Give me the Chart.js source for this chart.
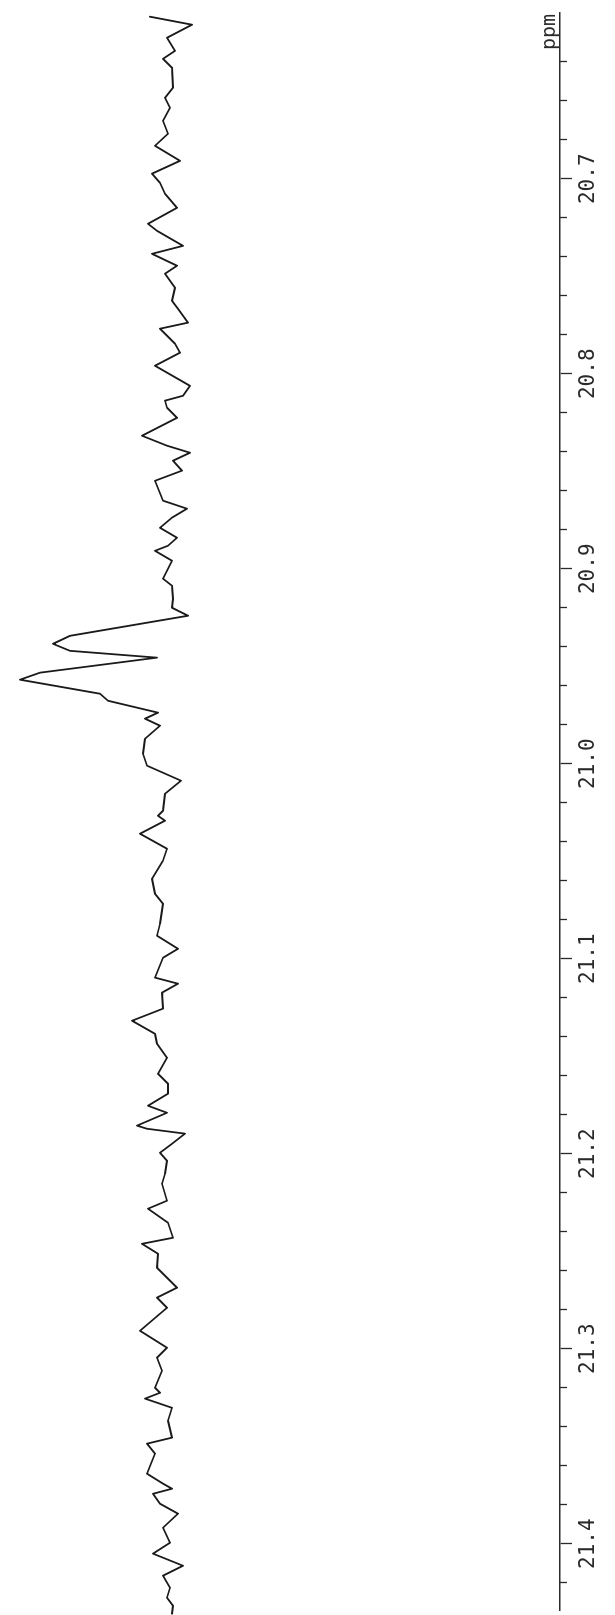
<!DOCTYPE html>
<html>
<head>
<meta charset="utf-8">
<script src="https://cdn.jsdelivr.net/npm/chart.js@4/dist/chart.umd.min.js"></script>
<style>
  html, body { margin: 0; padding: 0; background: #ffffff; width: 615px; height: 1615px; overflow: hidden; }
  #wrap { position: absolute; left: 0; top: 0; width: 1615px; height: 615px;
          transform-origin: 0 0; transform: translateY(1615px) rotate(-90deg); }
  canvas { display: block; }
</style>
</head>
<body>
<div id="wrap"><canvas id="c" width="1615" height="615" style="width:1615px;height:615px"></canvas></div>
<script>
// chemical shift (ppm) of each trace vertex
const ppmValues = [
  20.6169, 20.6210, 20.6277, 20.6344, 20.6385, 20.6431, 20.6533, 20.6585, 20.6636, 20.6703,
  20.6769, 20.6831, 20.6908, 20.6974, 20.7021, 20.7077, 20.7149, 20.7231, 20.7267, 20.7344,
  20.7385, 20.7446, 20.7487, 20.7559, 20.7626, 20.7667, 20.7738, 20.7769, 20.7846, 20.7892,
  20.7959, 20.8062, 20.8113, 20.8138, 20.8174, 20.8226, 20.8318, 20.8369, 20.8405, 20.8446,
  20.8497, 20.8549, 20.8651, 20.8692, 20.8738, 20.8790, 20.8841, 20.8882, 20.8908, 20.8959,
  20.9000, 20.9051, 20.9087, 20.9154, 20.9200, 20.9241, 20.9344, 20.9385, 20.9421, 20.9456,
  20.9533, 20.9569, 20.9641, 20.9677, 20.9738, 20.9769, 20.9805, 20.9872, 20.9949, 21.0010,
  21.0087, 21.0154, 21.0241, 21.0267, 21.0292, 21.0359, 21.0436, 21.0497, 21.0590, 21.0667,
  21.0718, 21.0821, 21.0882, 21.0949, 21.0995, 21.1097, 21.1128, 21.1174, 21.1256, 21.1318,
  21.1385, 21.1436, 21.1508, 21.1590, 21.1641, 21.1692, 21.1754, 21.1790, 21.1856, 21.1872,
  21.1897, 21.1949, 21.1995, 21.2036, 21.2103, 21.2154, 21.2241, 21.2282, 21.2354, 21.2431,
  21.2462, 21.2513, 21.2585, 21.2687, 21.2738, 21.2790, 21.2908, 21.2995, 21.3046, 21.3113,
  21.3200, 21.3226, 21.3256, 21.3303, 21.3369, 21.3456, 21.3487, 21.3538, 21.3641, 21.3692,
  21.3718, 21.3744, 21.3795, 21.3846, 21.3918, 21.3995, 21.4051, 21.4113, 21.4164, 21.4226,
  21.4277, 21.4318, 21.4359
];
// signal intensity (arbitrary units) at each vertex
const intensityValues = [
  410, 368, 393, 385, 397, 388, 387, 395, 390, 397,
  392, 405, 380, 408, 400, 395, 383, 412, 403, 377,
  408, 383, 395, 385, 388, 382, 372, 400, 385, 380,
  405, 370, 377, 395, 393, 383, 418, 393, 370, 387,
  378, 405, 397, 373, 388, 400, 383, 392, 405, 388,
  392, 397, 388, 387, 388, 372, 490, 507, 490, 403,
  520, 540, 460, 452, 402, 415, 400, 415, 417, 413,
  379, 395, 397, 402, 395, 420, 393, 397, 408, 405,
  397, 400, 403, 382, 397, 405, 382, 398, 397, 428,
  405, 403, 393, 402, 392, 392, 412, 393, 423, 413,
  375, 388, 400, 393, 395, 398, 393, 412, 392, 387,
  418, 402, 403, 383, 403, 393, 420, 393, 403, 398,
  405, 400, 415, 388, 392, 388, 413, 405, 413, 397,
  388, 407, 400, 382, 397, 390, 407, 377, 397, 390,
  393, 387, 388
];
const majorTicks = [20.7, 20.8, 20.9, 21.0, 21.1, 21.2, 21.3, 21.4];
const tickLabels = ['20.7', '20.8', '20.9', '21.0', '21.1', '21.2', '21.3', '21.4'];
const minorTicks = [
  20.64, 20.66, 20.68, 20.72, 20.74, 20.76, 20.78, 20.82, 20.84, 20.86, 20.88,
  20.92, 20.94, 20.96, 20.98, 21.02, 21.04, 21.06, 21.08, 21.12, 21.14, 21.16, 21.18,
  21.22, 21.24, 21.26, 21.28, 21.32, 21.34, 21.36, 21.38, 21.42
];
const axisTitle = 'ppm';
const ppmMin = 20.615, ppmMax = 21.434;

const points = ppmValues.map((p, i) => ({ x: p, y: intensityValues[i] }));
const ink = '#2a2a2a';
const monoFont = '"DejaVu Sans Mono", "Liberation Mono", monospace';

const titlePlugin = {
  id: 'ppmTitle',
  afterDraw(chart) {
    const { ctx, chartArea } = chart;
    ctx.save();
    ctx.font = '20px ' + monoFont;
    ctx.fillStyle = ink;
    ctx.textAlign = 'right';
    ctx.textBaseline = 'alphabetic';
    ctx.fillText(axisTitle, chartArea.right - 1, chartArea.bottom - 5);
    ctx.restore();
  }
};

new Chart(document.getElementById('c'), {
  type: 'line',
  data: {
    datasets: [{
      data: points,
      xAxisID: 'x',
      yAxisID: 'y',
      borderColor: '#1a1a1a',
      borderWidth: 1.8,
      borderJoinStyle: 'round',
      borderCapStyle: 'round',
      pointRadius: 0,
      tension: 0,
      fill: false,
      clip: false
    }]
  },
  options: {
    responsive: false,
    animation: false,
    layout: { padding: { left: 5, right: 13, top: 10, bottom: 0 } },
    plugins: { legend: { display: false }, tooltip: { enabled: false }, title: { display: false } },
    scales: {
      xMinor: {
        type: 'linear', position: 'bottom', weight: 0,
        min: ppmMin, max: ppmMax, reverse: true,
        afterBuildTicks: s => { s.ticks = minorTicks.map(v => ({ value: v })); },
        afterFit: s => { s.height = 0; },
        ticks: { display: false, autoSkip: false },
        grid: { drawOnChartArea: false, drawTicks: true, tickLength: 7, tickColor: ink, tickWidth: 1.3 },
        border: { display: false }
      },
      x: {
        type: 'linear', position: 'bottom', weight: 1,
        min: ppmMin, max: ppmMax, reverse: true,
        afterBuildTicks: s => { s.ticks = majorTicks.map(v => ({ value: v })); },
        afterFit: s => { s.height = 55; },
        ticks: {
          autoSkip: false, maxRotation: 0, minRotation: 0, padding: 4,
          color: ink, font: { family: monoFont, size: 21 },
          callback: (v, i) => tickLabels[i]
        },
        grid: { drawOnChartArea: false, drawTicks: true, tickLength: 12, tickColor: ink, tickWidth: 1.3 },
        border: { display: true, color: ink, width: 1.6 }
      },
      y: {
        type: 'linear', display: false, min: 0, max: 550
      }
    }
  },
  plugins: [titlePlugin]
});
</script>
</body>
</html>
